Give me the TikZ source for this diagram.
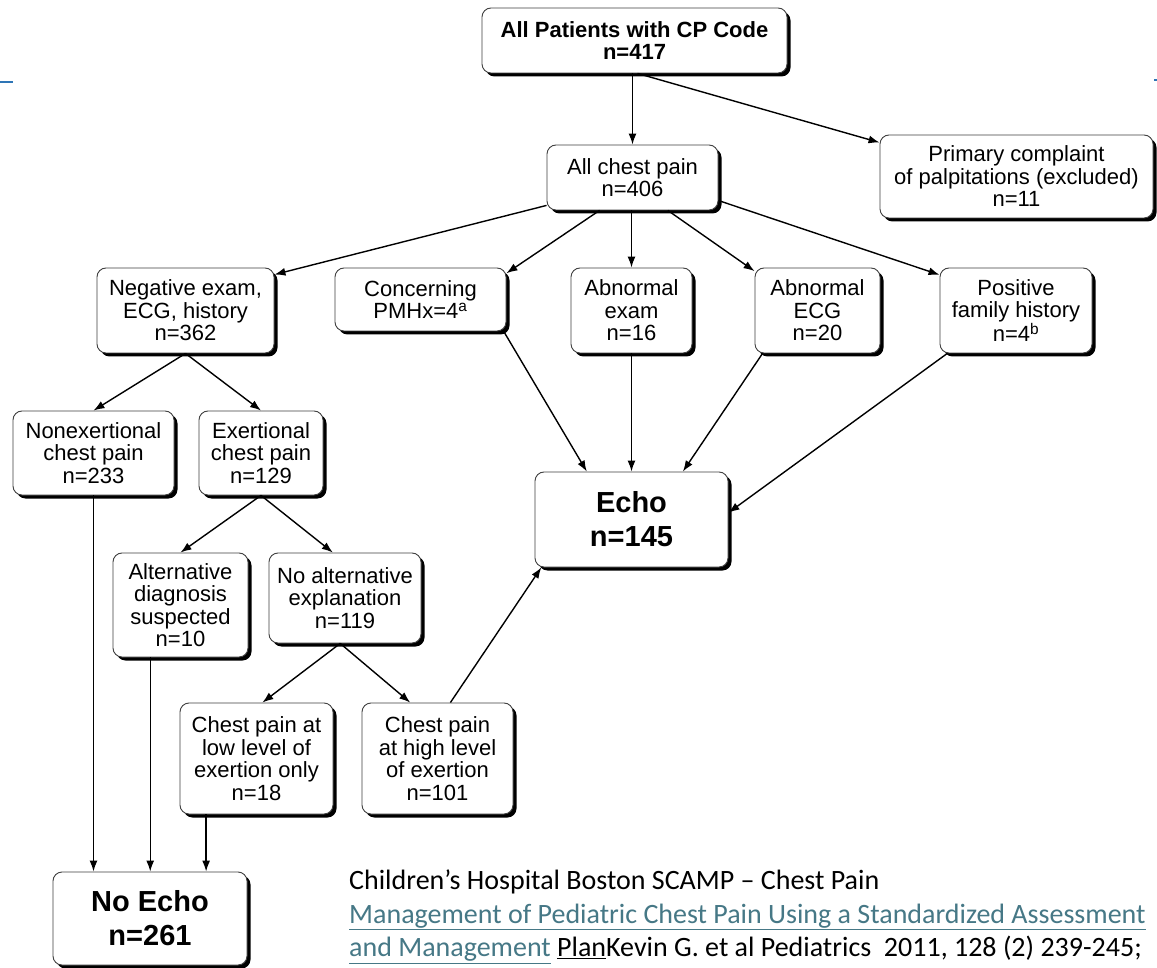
\documentclass[tikz,border=0pt]{standalone}
\usepackage{fontspec}
\setmainfont{Liberation Sans}
\newfontfamily\capfont{Carlito}
\usepackage{xcolor}
\usetikzlibrary{arrows.meta,positioning,shadows}
\definecolor{linkc}{RGB}{70,120,134}
\definecolor{slideblue}{RGB}{46,117,182}

\begin{document}
\begin{tikzpicture}[x=1pt, y=-1pt,
  font=\fontsize{22}{22.5}\selectfont,
  sz/.style 2 args={minimum width=#1pt, minimum height=#2pt},
  b/.style={draw=black!75, line width=0.9pt, fill=white, rounded corners=9pt, inner sep=0pt, align=center,
    drop shadow={shadow xshift=3.5pt, shadow yshift=-3.5pt, opacity=1, fill=black}},
  hb/.style={b, font=\fontsize{22}{22}\selectfont\bfseries},
  big/.style={b, font=\fontsize{29}{34}\selectfont\bfseries},
  arr/.style={-{Latex[length=11pt, width=8pt]}, line width=1.4pt}]
  \fill[white] (0,0) rectangle (1157,968);
  \useasboundingbox (0,0) rectangle (1157,968);
  \draw[slideblue, line width=2pt] (0,82) -- (13,82);
  \draw[slideblue, line width=2pt] (1154,80) -- (1157,80);
  \node[hb, sz={305}{65}] (top) at (634.5,40.5) {All Patients with CP Code\\ n=417};
  \node[b, sz={171}{65}] (chest) at (632.5,177.5) {All chest pain\\ n=406};
  \node[b, sz={273}{83}] (prim) at (1016.5,176.5) {Primary complaint\\ of palpitations (excluded)\\ n=11};
  \node[b, sz={177}{85}] (neg) at (185.5,310.5) {Negative exam,\\ ECG, history\\ n=362};
  \node[b, sz={171}{63}] (pmh) at (420.5,299.5) {Concerning\\ PMHx=4\textsuperscript{a}};
  \node[b, sz={121}{85}] (exam) at (631.5,310.5) {Abnormal\\ exam\\ n=16};
  \node[b, sz={125}{85}] (ecg) at (817.5,310.5) {Abnormal\\ ECG\\ n=20};
  \node[b, sz={152}{85}] (fam) at (1016,310.5) {Positive\\ family history\\ n=4\textsuperscript{b}};
  \node[b, sz={161}{84}] (nonex) at (93.5,453) {Nonexertional\\ chest pain\\ n=233};
  \node[b, sz={124}{84}] (exer) at (261,453) {Exertional\\ chest pain\\ n=129};
  \node[b, sz={135}{104}] (alt) at (180.5,605) {Alternative\\ diagnosis\\ suspected\\ n=10};
  \node[b, sz={152}{90}] (noalt) at (345,598) {No alternative\\ explanation\\ n=119};
  \node[big, sz={193}{95}] (echo) at (631.5,519.5) {Echo\\ n=145};
  \node[b, sz={153}{111}] (low) at (256.5,758.5) {Chest pain at\\ low level of\\ exertion only\\ n=18};
  \node[b, sz={151}{111}] (high) at (437.5,758.5) {Chest pain\\ at high level\\ of exertion\\ n=101};
  \node[big, sz={194}{93}] (noecho) at (150,918.5) {No Echo\\ n=261};
  \node[anchor=north west, inner sep=0pt, align=left, font=\capfont\fontsize{28}{33.5}\selectfont] (cap) at (349,870)
    {Children’s Hospital Boston SCAMP – Chest Pain\\
     \textcolor{linkc}{\underline{Management of Pediatric Chest Pain Using a Standardized Assessment}}\\
     \textcolor{linkc}{\underline{and Management}} \underline{Plan}Kevin G. et al Pediatrics\ \ 2011, 128 (2) 239-245;};
  \draw[arr] (top.south -| chest.north) -- (chest.north); \draw[arr] ([xshift=3pt]top.south) -- ([yshift=-8pt]prim.north west);
  \draw[arr] (chest.198) -- (neg.22); \draw[arr] (chest.225) -- (pmh.17);
  \draw[arr] (exam.north |- chest.south) -- (exam.north);
  \draw[arr] (chest.-43) -- (ecg.148); \draw[arr] (chest.-15) -- (fam.155);
  \draw[arr] (pmh.-21) -- (echo.133); \draw[arr] (exam.south) -- (echo.north);
  \draw[arr] (ecg.218) -- (echo.43); \draw[arr] (fam.212) -- (echo.4);
  \draw[arr] (high.77) -- (echo.208);
  \draw[arr] (neg.south) -- (nonex.north); \draw[arr] (neg.south) -- (exer.north);
  \draw[arr] (exer.south) -- (alt.north); \draw[arr] (exer.south) -- (noalt.105);
  \draw[arr] (noalt.264) -- (low.84); \draw[arr] (noalt.264) -- (high.116);
  \draw[arr] (nonex.south) -- (nonex.south |- noecho.north);
  \draw[arr] (alt.240) -- (alt.240 |- noecho.north);
  \draw[arr] (low.228) -- (low.228 |- noecho.north);
\end{tikzpicture}
\end{document}
